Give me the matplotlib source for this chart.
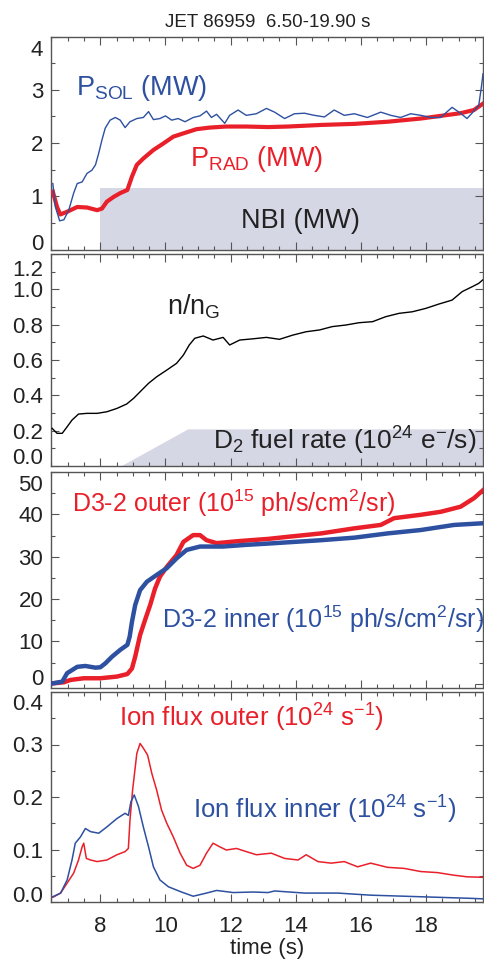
import matplotlib.pyplot as plt
from matplotlib.ticker import MultipleLocator
from matplotlib.transforms import ScaledTranslation

plt.rcParams['font.family'] = ['Liberation Sans', 'DejaVu Sans']
plt.rcParams['mathtext.fontset'] = 'custom'
plt.rcParams['mathtext.rm'] = 'Liberation Sans'
plt.rcParams['mathtext.it'] = 'Liberation Sans:italic'
plt.rcParams['mathtext.bf'] = 'Liberation Sans:bold'

BLUE = '#2d50a0'
RED = '#e9202a'
FILL = '#d6d7e5'
INK = '#222222'

# ---- panel 1: powers (MW)
t_psol = [6.54, 6.62, 6.75, 6.88, 7.03, 7.18, 7.29, 7.44, 7.59, 7.74, 7.85, 7.95,
          8.05, 8.15, 8.30, 8.46, 8.61, 8.76, 8.91, 9.12, 9.32, 9.48, 9.63, 9.83,
          10.0, 10.19, 10.39, 10.60, 10.85, 11.06, 11.26, 11.41, 11.57, 11.82,
          11.97, 12.23, 12.48, 12.79, 13.10, 13.35, 13.66, 13.96, 14.27, 14.57,
          14.88, 15.18, 15.49, 15.80, 16.20, 16.61, 16.92, 17.22, 17.53, 17.84,
          18.14, 18.45, 18.80, 19.06, 19.26, 19.47, 19.62, 19.70, 19.75]
psol = [1.24, 0.80, 0.54, 0.56, 0.74, 1.06, 1.24, 1.27, 1.43, 1.49, 1.59, 1.81,
        2.06, 2.28, 2.43, 2.48, 2.43, 2.29, 2.40, 2.46, 2.48, 2.59, 2.44, 2.46,
        2.51, 2.43, 2.46, 2.40, 2.48, 2.51, 2.60, 2.48, 2.54, 2.37,
        2.52, 2.62, 2.52, 2.55, 2.65, 2.58, 2.46, 2.55, 2.56, 2.52,
        2.49, 2.62, 2.52, 2.55, 2.48, 2.58, 2.52, 2.48, 2.55, 2.52,
        2.48, 2.48, 2.67, 2.56, 2.46, 2.60, 2.71, 3.05, 3.30]
t_prad = [6.54, 6.67, 6.77, 6.98, 7.29, 7.59, 7.90, 8.05, 8.20, 8.41, 8.61, 8.83,
          8.97, 9.12, 9.32, 9.63, 9.93, 10.24, 10.54, 10.95, 11.35, 11.86, 12.48,
          13.15, 13.76, 14.78, 15.80, 16.82, 17.84, 18.45, 19.06, 19.47, 19.75]
prad = [1.09, 0.80, 0.66, 0.71, 0.80, 0.79, 0.74, 0.77, 0.90, 0.99, 1.06, 1.12,
        1.37, 1.59, 1.71, 1.87, 1.99, 2.12, 2.18, 2.26, 2.29, 2.31, 2.31,
        2.30, 2.31, 2.34, 2.36, 2.40, 2.46, 2.51, 2.56, 2.62, 2.74]
nbi_t = [6.5, 7.98, 7.98, 19.9]
nbi_mw = [0.0, 0.0, 1.15, 1.15]

# ---- panel 2: Greenwald fraction and fuelling
t_ngw = [6.52, 6.67, 6.83, 6.98, 7.13, 7.33, 7.59, 7.90, 8.20, 8.51, 8.81, 9.02,
         9.22, 9.48, 9.73, 10.04, 10.34, 10.55, 10.73, 10.90, 11.16, 11.46,
         11.77, 11.97, 12.28, 12.69, 13.10, 13.50, 13.91, 14.32, 14.73, 15.12,
         15.54, 15.94, 16.36, 16.76, 17.17, 17.58, 17.99, 18.40, 18.80, 19.11,
         19.42, 19.62, 19.74]
ngw = [0.213, 0.185, 0.185, 0.222, 0.26, 0.294, 0.298, 0.298, 0.307, 0.326,
       0.351, 0.383, 0.42, 0.468, 0.505, 0.543, 0.581, 0.628, 0.685, 0.723,
       0.736, 0.713, 0.728, 0.685, 0.713, 0.72, 0.728, 0.717, 0.741, 0.76,
       0.77, 0.789, 0.798, 0.811, 0.817, 0.845, 0.864, 0.873, 0.892, 0.917,
       0.939, 0.987, 1.015, 1.034, 1.053]
fuel_t = [6.5, 8.62, 10.68, 19.9]
fuel_rate = [0.0, 0.0, 0.21, 0.21]

# ---- panel 3: D3-2 emission (1e15 ph/s/cm2/sr)
t_d32_in = [6.54, 6.83, 6.98, 7.29, 7.54, 7.85, 8.00, 8.15, 8.36, 8.61, 8.83,
            8.90, 8.97, 9.07, 9.22, 9.43, 9.73, 10.04, 10.34, 10.65, 11.06,
            11.77, 12.48, 13.15, 13.76, 14.78, 15.80, 16.82, 17.84, 18.86, 19.75]
d32_in = [0.1, 0.5, 2.5, 4.0, 4.2, 3.8, 3.9, 4.8, 6.4, 8.0, 9.2,
          11.1, 14.6, 18.6, 22.1, 24.1, 25.7, 27.3, 29.6, 31.6, 32.4,
          32.4, 32.8, 33.1, 33.4, 33.9, 34.5, 35.5, 36.3, 37.5, 37.9]
t_d32_out = [6.54, 6.88, 7.08, 7.49, 8.00, 8.51, 8.83, 8.97, 9.07, 9.22, 9.37,
             9.53, 9.68, 9.83, 10.04, 10.34, 10.55, 10.85, 11.06, 11.26, 11.57,
             12.28, 13.15, 13.76, 14.78, 15.80, 16.61, 17.02, 17.84, 18.45,
             19.06, 19.47, 19.75]
d32_out = [0.1, 0.35, 0.9, 1.3, 1.3, 1.7, 2.3, 3.6, 6.4, 11.5, 15.0,
           18.6, 22.5, 25.3, 27.6, 30.4, 33.5, 35.1, 35.1, 33.9, 33.2,
           33.7, 34.2, 34.7, 35.5, 36.7, 37.5, 39.1, 39.9, 40.6,
           41.8, 43.8, 45.7]

# ---- panel 4: divertor ion flux (1e24 /s)
t_ion_in = [6.54, 6.78, 6.98, 7.13, 7.23, 7.39, 7.54, 7.70, 7.95, 8.20, 8.51,
            8.76, 8.86, 8.94, 9.04, 9.17, 9.32, 9.48, 9.63, 9.83, 10.09, 10.45,
            10.85, 11.26, 11.57, 12.08, 12.69, 13.15, 13.35, 14.27, 15.29,
            16.30, 17.33, 18.35, 19.36, 19.75]
ion_in = [0.010, 0.017, 0.042, 0.080, 0.112, 0.124, 0.140, 0.134, 0.131, 0.143,
          0.159, 0.169, 0.165, 0.191, 0.204, 0.182, 0.143, 0.105, 0.067, 0.042,
          0.029, 0.020, 0.011, 0.017, 0.022, 0.018, 0.019, 0.018, 0.021, 0.017,
          0.017, 0.013, 0.011, 0.009, 0.007, 0.006]
t_ion_out = [6.54, 6.78, 6.98, 7.18, 7.33, 7.44, 7.49, 7.57, 7.70, 7.90, 8.20,
             8.51, 8.76, 8.86, 8.91, 8.99, 9.12, 9.22, 9.32, 9.45, 9.58, 9.73,
             9.88, 10.04, 10.24, 10.45, 10.65, 10.85, 11.06, 11.26, 11.46, 11.67,
             11.87, 12.18, 12.48, 12.79, 13.25, 13.66, 14.07, 14.32, 14.68,
             15.09, 15.49, 15.90, 16.30, 16.82, 17.33, 17.84, 18.35, 18.86,
             19.26, 19.75]
ion_out = [0.009, 0.017, 0.036, 0.055, 0.080, 0.105, 0.112, 0.083, 0.080, 0.077,
           0.080, 0.090, 0.096, 0.102, 0.156, 0.213, 0.283, 0.302, 0.293, 0.280,
           0.245, 0.213, 0.175, 0.150, 0.124, 0.093, 0.070, 0.064, 0.070, 0.093,
           0.112, 0.105, 0.099, 0.102, 0.096, 0.090, 0.093, 0.083, 0.080, 0.090,
           0.077, 0.074, 0.077, 0.067, 0.074, 0.066, 0.064, 0.058, 0.056, 0.051,
           0.048, 0.047]

XMIN, XMAX = 6.5, 19.75

fig = plt.figure(figsize=(4.85, 9.6), dpi=100)
L, W = 51.5 / 485, 431.5 / 485


def make_axes(top_px, bot_px, ylim, major, minor):
    ax = fig.add_axes([L, 1 - bot_px / 960, W, (bot_px - top_px) / 960])
    ax.set_xlim(XMIN, XMAX)
    ax.set_ylim(*ylim)
    ax.xaxis.set_major_locator(MultipleLocator(2))
    ax.xaxis.set_minor_locator(MultipleLocator(0.5))
    ax.yaxis.set_major_locator(MultipleLocator(major))
    ax.yaxis.set_minor_locator(MultipleLocator(minor))
    ax.tick_params(which='both', direction='in', top=True, right=True,
                   colors='#555555', labelcolor=INK, labelsize=16, pad=6)
    ax.tick_params(which='major', length=6, width=0.8)
    ax.tick_params(which='minor', length=3, width=0.8)
    for s in ax.spines.values():
        s.set_color('#555555')
        s.set_linewidth(1.0)
    ax.tick_params(axis='x', labelbottom=False)
    return ax


def nudge(ax, top_dn, bot_up):
    # keep end labels inside the frame as in the original plot
    ticks = ax.yaxis.get_major_ticks()
    locs = ax.yaxis.get_majorticklocs()
    y0, y1 = ax.get_ylim()
    inside = [i for i, v in enumerate(locs) if y0 - 1e-9 <= v <= y1 + 1e-9]
    first, last = ticks[inside[0]].label1, ticks[inside[-1]].label1
    last.set_transform(last.get_transform() +
                       ScaledTranslation(0, -top_dn * 0.72 / 72, fig.dpi_scale_trans))
    first.set_transform(first.get_transform() +
                        ScaledTranslation(0, bot_up * 0.72 / 72, fig.dpi_scale_trans))


# panel 1
ax1 = make_axes(36.5, 249.6, (0, 4), 1, 0.5)
ax1.fill_between(nbi_t, 0, nbi_mw, color=FILL, lw=0, zorder=1)
ax1.plot(t_prad, prad, color=RED, lw=3.0, zorder=3)
ax1.plot(t_psol, psol, color=BLUE, lw=1.0, zorder=4)
ax1.text(7.26, 2.90, r'P$_{\mathrm{SOL}}$ (MW)', color=BLUE, fontsize=19.5)
ax1.text(10.75, 1.56, r'P$_{\mathrm{RAD}}$ (MW)', color=RED, fontsize=19.5)
ax1.text(12.33, 0.40, 'NBI (MW)', color=INK, fontsize=19.5)
ax1.set_title('JET 86959  6.50-19.90 s', fontsize=13.5, color=INK, pad=7)

# panel 2
ax2 = make_axes(254, 466, (0, 1.2), 0.2, 0.1)
ax2.yaxis.set_major_formatter(plt.FormatStrFormatter('%.1f'))
ax2.fill_between(fuel_t, 0, fuel_rate, color=FILL, lw=0, zorder=1)
ax2.plot(t_ngw, ngw, color='black', lw=1.0, zorder=3)
ax2.text(10.04, 0.855, r'n/n$_{\mathrm{G}}$', color=INK, fontsize=19.5)
ax2.text(11.45, 0.09, r'D$_{2}$ fuel rate (10$^{24}$ e$^{-}$/s)', color=INK,
         fontsize=19)

# panel 3
ax3 = make_axes(472, 688, (-1, 50), 10, 5)
ax3.plot(t_d32_out, d32_out, color=RED, lw=3.2, zorder=3)
ax3.plot(t_d32_in, d32_in, color=BLUE, lw=3.2, zorder=4)
ax3.text(7.13, 40.6, r'D3-2 outer (10$^{15}$ ph/s/cm$^{2}$/sr)', color=RED,
         fontsize=18)
ax3.text(9.89, 13.1, r'D3-2 inner (10$^{15}$ ph/s/cm$^{2}$/sr)', color=BLUE,
         fontsize=18)

# panel 4
ax4 = make_axes(692, 902, (0, 0.4), 0.1, 0.05)
ax4.yaxis.set_major_formatter(plt.FormatStrFormatter('%.1f'))
ax4.plot(t_ion_out, ion_out, color=RED, lw=1.1, zorder=3)
ax4.plot(t_ion_in, ion_in, color=BLUE, lw=1.1, zorder=4)
ax4.text(8.56, 0.334, r'Ion flux outer (10$^{24}$ s$^{-1}$)', color=RED,
         fontsize=18.5)
ax4.text(10.85, 0.159, r'Ion flux inner (10$^{24}$ s$^{-1}$)', color=BLUE,
         fontsize=18.5)
ax4.tick_params(axis='x', labelbottom=True, pad=10)
ax4.set_xlabel('time (s)', fontsize=16, color=INK, labelpad=1)

nudge(ax1, 11, 8)
nudge(ax2, 14, 10)
nudge(ax3, 11, 7)
nudge(ax4, 10, 8)

fig.savefig('out.png', dpi=100)
